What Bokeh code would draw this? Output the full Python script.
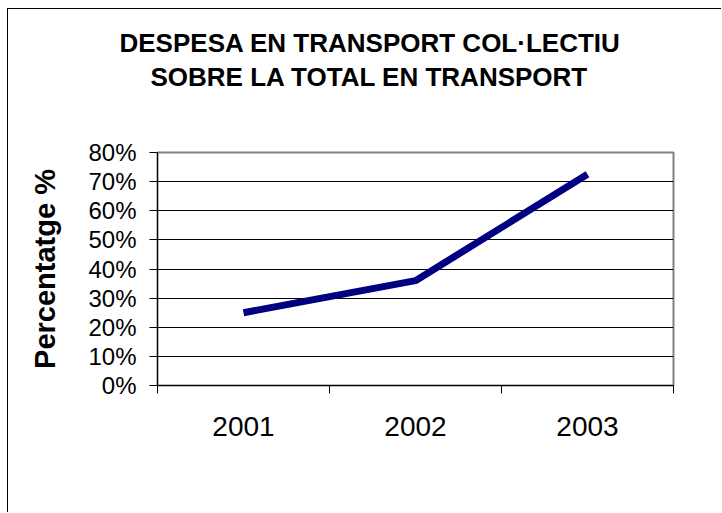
from bokeh.plotting import figure
from bokeh.models import (Range1d, LinearAxis, FixedTicker, NumeralTickFormatter, Title)
from bokeh.embed import file_html
from bokeh.resources import INLINE

years = ["2001", "2002", "2003"]
shares = [0.25, 0.36, 0.725]
y_ticks = [0, 0.1, 0.2, 0.3, 0.4, 0.5, 0.6, 0.7, 0.8]
title_lines = ["DESPESA EN TRANSPORT COL·LECTIU", "SOBRE LA TOTAL EN TRANSPORT"]
y_label = "Percentatge %"

FONT = "Liberation Sans"

# category slots: each year occupies one unit, centred at index + 0.5
centers = [i + 0.5 for i in range(len(years))]
edges = list(range(len(years) + 1))

p = figure(width=714, height=504, output_backend="svg", toolbar_location=None,
           x_range=Range1d(0, len(years)), y_range=Range1d(0, 0.8),
           x_axis_location=None, y_axis_location=None,
           min_border_left=149, min_border_right=49, min_border_top=143, min_border_bottom=128)
p.styles = {"margin-left": "7px", "margin-top": "8px",
            "border-left": "1px solid black", "border-top": "1px solid black"}
p.background_fill_color = "white"
p.border_fill_color = "white"
p.outline_line_color = "#808080"
p.outline_line_width = 2

edge_axis = LinearAxis(ticker=FixedTicker(ticks=edges),
                       major_label_text_font_size="0px", major_label_standoff=0,
                       major_label_overrides={e: "" for e in edges},
                       major_tick_out=8, major_tick_in=0, minor_tick_line_color=None,
                       axis_line_color="black", major_tick_line_color="black")
p.add_layout(edge_axis, "below")

cat_axis = LinearAxis(ticker=FixedTicker(ticks=centers),
                      major_label_overrides={c: y for c, y in zip(centers, years)},
                      axis_line_color=None, major_tick_line_color=None, minor_tick_line_color=None,
                      major_tick_out=0, major_tick_in=0,
                      major_label_text_font=FONT, major_label_text_font_size="28px",
                      major_label_text_color="black", major_label_standoff=23)
p.add_layout(cat_axis, "below")

y_axis = LinearAxis(ticker=FixedTicker(ticks=y_ticks), formatter=NumeralTickFormatter(format="0%"),
                    major_tick_out=8, major_tick_in=0, minor_tick_line_color=None,
                    axis_line_color="black", major_tick_line_color="black",
                    major_label_text_font=FONT, major_label_text_font_size="24px",
                    major_label_text_color="black", major_label_standoff=13,
                    axis_label=y_label, axis_label_text_font=FONT, axis_label_text_font_size="29px",
                    axis_label_text_font_style="bold", axis_label_text_color="black",
                    axis_label_standoff=24)
p.add_layout(y_axis, "left")

p.xgrid.visible = False
p.ygrid.ticker = FixedTicker(ticks=y_ticks)
p.ygrid.grid_line_color = "black"
p.ygrid.grid_line_width = 1

p.line(centers, shares, line_color="#000080", line_width=7)

# title: spacer above the frame, then the two lines (added from the frame outward)
p.add_layout(Title(text="\u00a0", text_font=FONT, text_font_size="53px", standoff=0), "above")
p.add_layout(Title(text=title_lines[1], align="left", offset=-7, standoff=0,
                   text_font=FONT, text_font_size="26px", text_font_style="bold",
                   text_color="black"), "above")
p.add_layout(Title(text=title_lines[0], align="left", offset=-38, standoff=3,
                   text_font=FONT, text_font_size="26px", text_font_style="bold",
                   text_color="black"), "above")

open("out.html", "w").write(file_html(p, INLINE))
